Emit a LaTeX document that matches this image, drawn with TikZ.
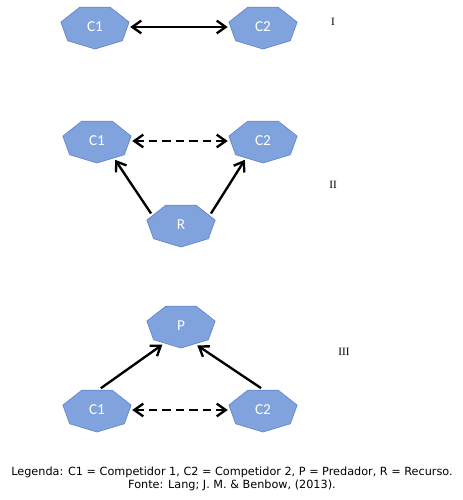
\documentclass[tikz,border=0pt]{standalone}
\usepackage{fontspec}
\setmainfont{DejaVu Sans}
\newfontfamily\nodefont{Carlito}
\newfontfamily\romfont{Liberation Serif}
\usepackage{tikz, xcolor}
\usetikzlibrary{arrows.meta, shapes.geometric}
\definecolor{hepfill}{RGB}{128,163,222}
\definecolor{hepline}{RGB}{100,136,204}
% heptagon with flat top, drawn behind a named label node
\newcommand{\hepnode}[3]{%
	\filldraw[fill=hepfill, draw=hepline, line width=.6pt] (#2) +(90:35 and 22)
		\foreach \k in {1,...,6} { -- +(90+\k*51.4286:35 and 22) } -- cycle;
	\node[heplabel] (#1) at (#2) {#3};}

\begin{document}
\begin{tikzpicture}[x=0.03cm, y=-0.03cm,
	heplabel/.style={ellipse, inner sep=0pt, minimum width=2.1cm, minimum height=1.3cm, text=white, font=\nodefont\fontsize{13}{15}\selectfont},
	link/.style={line width=2pt, {Straight Barb[length=2.7mm, width=3.8mm]}-{Straight Barb[length=2.7mm, width=3.8mm]}},
	onelink/.style={line width=2pt, -{Straight Barb[length=2.7mm, width=3.8mm]}},
	roman/.style={font=\romfont\fontsize{9.5}{11}\selectfont}]
	\useasboundingbox (0, 0) rectangle (462, 500);
	% I
	\hepnode{c1a}{95, 27}{C1}
	\hepnode{c2a}{263, 27}{C2}
	\draw[link] (c1a) -- (c2a);
	\node[roman] (numa) at (333, 22) {I};
	% II
	\hepnode{c1b}{97, 141}{C1}
	\hepnode{c2b}{263, 141}{C2}
	\hepnode{rb}{181, 225}{R}
	\draw[link, dash pattern=on 7pt off 4.5pt] (c1b) -- (c2b);
	\draw[onelink] (rb.159) -- (c1b.-46);
	\draw[onelink] (rb.21) -- (c2b.-134);
	\node[roman] (numb) at (333, 185) {II};
	% III
	\hepnode{pc}{181, 326}{P}
	\hepnode{c1c}{97, 410}{C1}
	\hepnode{c2c}{263, 410}{C2}
	\draw[link, dash pattern=on 7pt off 4.5pt] (c1c) -- (c2c);
	\draw[onelink] (c1c.80) -- (pc.-135);
	\draw[onelink] (c2c.95) -- (pc.-50);
	\node[roman] (numc) at (344, 352) {III};
	% legenda
	\node[font=\fontsize{9.6}{11.5}\selectfont, align=center] (leg) at (232, 479)
		{Legenda: C1 = Competidor 1, C2 = Competidor 2, P = Predador, R = Recurso.\\Fonte: Lang; J. M. \& Benbow, (2013).};
\end{tikzpicture}
\end{document}
